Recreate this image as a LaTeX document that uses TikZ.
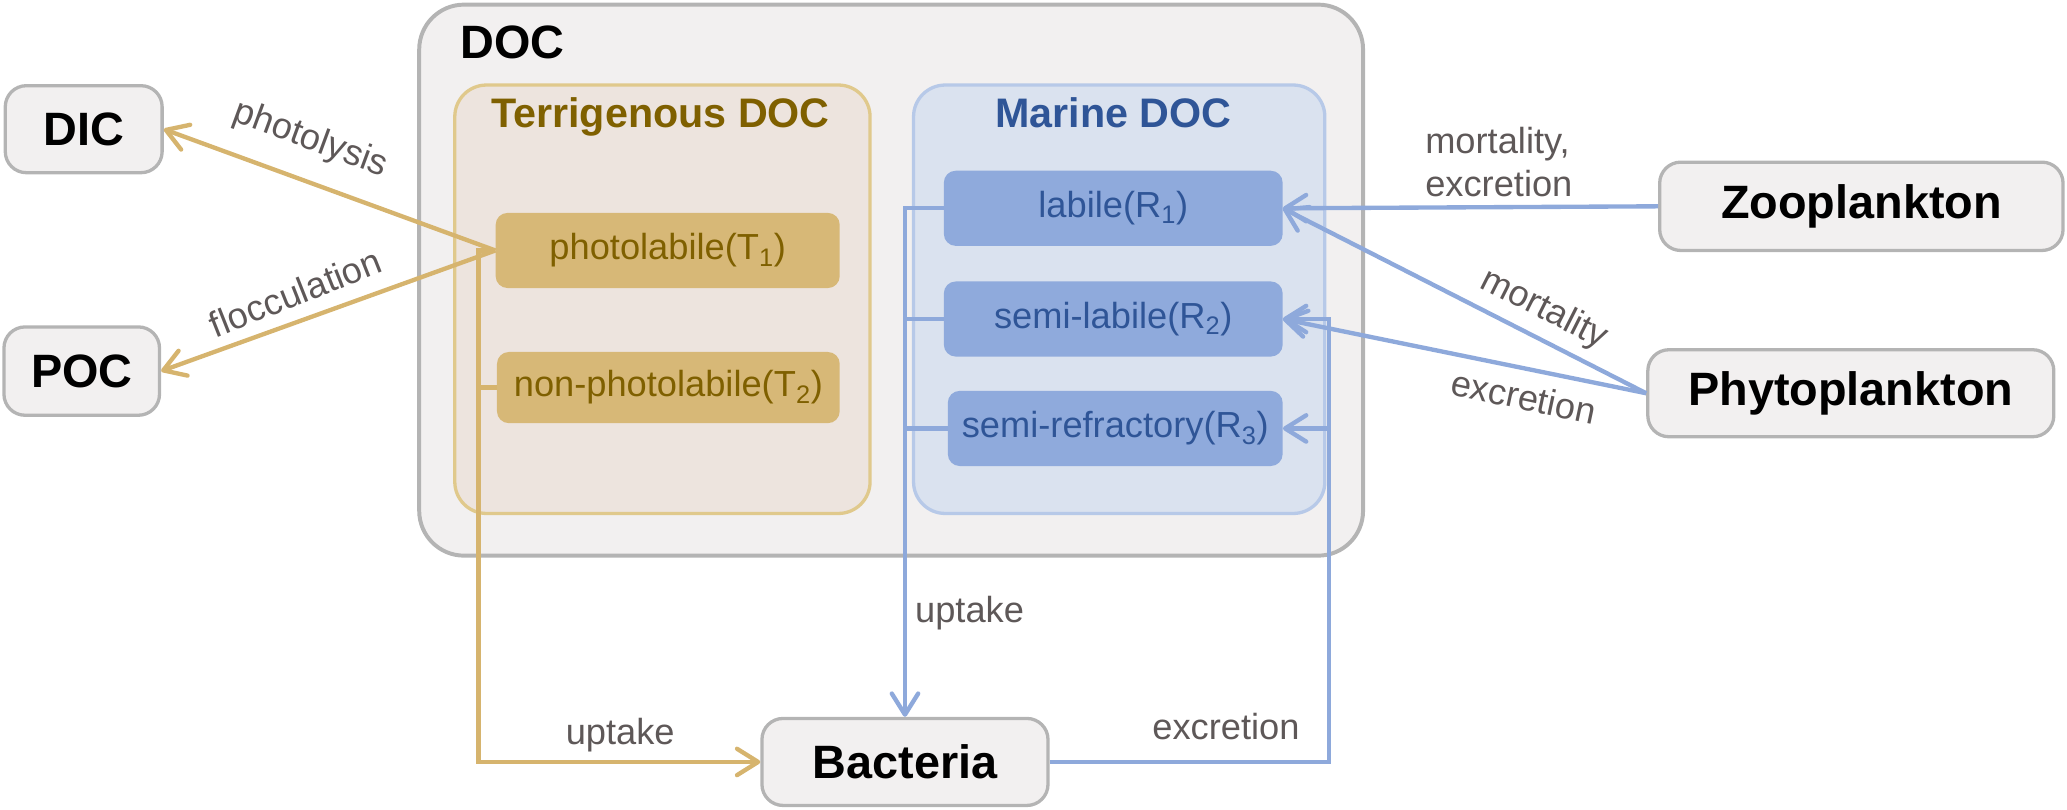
\documentclass[tikz,border=0pt]{standalone}
\usepackage{fontspec}
\setmainfont{Liberation Sans}
\usetikzlibrary{arrows.meta}
\definecolor{gbfill}{HTML}{F2F0F0}
\definecolor{gbdraw}{HTML}{B4B4B4}
\definecolor{terrfill}{HTML}{EDE4DE}
\definecolor{terrdraw}{HTML}{E0C98C}
\definecolor{goldbox}{HTML}{D7B877}
\definecolor{goldtext}{HTML}{7F6000}
\definecolor{goldline}{HTML}{D6B46E}
\definecolor{marfill}{HTML}{DAE2EF}
\definecolor{mardraw}{HTML}{B7C9E8}
\definecolor{bluebox}{HTML}{8FAADC}
\definecolor{bluetext}{HTML}{2F5597}
\definecolor{blueline}{HTML}{8EA9DB}
\definecolor{labgray}{HTML}{5E5858}
\newcommand\lblfont{\fontsize{27.5}{33}\selectfont}
\newcommand\extfont{\fontsize{35.5}{42}\selectfont\bfseries}
\newcommand\subttlfont{\fontsize{31.3}{38}\selectfont\bfseries}
\begin{document}
\begin{tikzpicture}[x=1pt,y=-1pt,
  outerbox/.style={draw=gbdraw, fill=gbfill, line width=3pt, rounded corners=34pt, inner sep=0pt},
  terrbox/.style={draw=terrdraw, fill=terrfill, line width=2.5pt, rounded corners=24pt, inner sep=0pt},
  marbox/.style={draw=mardraw, fill=marfill, line width=2.5pt, rounded corners=24pt, inner sep=0pt},
  gitem/.style={fill=goldbox, text=goldtext, rounded corners=9pt, font=\lblfont, inner sep=0pt, minimum height=57pt, minimum width=260pt},
  bitem/.style={fill=bluebox, text=bluetext, rounded corners=9pt, font=\lblfont, inner sep=0pt, minimum height=57pt, minimum width=257pt},
  extbox/.style={draw=gbdraw, fill=gbfill, line width=2.5pt, rounded corners=16pt, font=\extfont, inner sep=0pt},
  gline/.style={draw=goldline, line width=3.3pt},
  bline/.style={draw=blueline, line width=3.3pt},
  gflow/.style={gline, -{Straight Barb[length=16pt,width=20pt,round]}},
  bflow/.style={bline, -{Straight Barb[length=16pt,width=20pt,round]}},
  lab/.style={text=labgray, font=\lblfont, inner sep=0pt}
]
\useasboundingbox (0,0) rectangle (1568,613.7);

% containers
\node[outerbox, minimum width=716pt, minimum height=418pt] (doc) at (676,212.5) {};
\node[anchor=base west, font=\extfont, inner sep=0pt] (doct) at (349,44) {DOC};
\node[terrbox, minimum width=315pt, minimum height=325pt] (terr) at (502.5,227) {};
\node[anchor=base, font=\subttlfont, text=goldtext, inner sep=0pt] (terrt) at (501,97) {Terrigenous DOC};
\node[marbox, minimum width=312pt, minimum height=325pt] (mar) at (849,227) {};
\node[anchor=base, font=\subttlfont, text=bluetext, inner sep=0pt] (mart) at (844.5,97) {Marine DOC};

% pools
\node[gitem, minimum width=261pt] (T1) at (506.5,190) {photolabile(T\textsubscript{1})\hspace{14pt}};
\node[gitem, minimum height=54pt] (T2) at (507,294) {non-photolabile(T\textsubscript{2})};
\node[bitem] (R1) at (844.5,158) {labile(R\textsubscript{1})};
\node[bitem] (R2) at (844.5,242) {semi-labile(R\textsubscript{2})};
\node[bitem, minimum width=254pt] (R3) at (846,325) {semi-refractory(R\textsubscript{3})};

% external boxes
\node[extbox, minimum width=119pt, minimum height=66pt] (DIC) at (63.5,98) {DIC};
\node[extbox, minimum width=118pt, minimum height=67pt] (POC) at (62,281.5) {POC};
\node[extbox, minimum width=306pt, minimum height=67pt] (Zoo) at (1412,156.5) {Zooplankton};
\node[extbox, minimum width=308pt, minimum height=66pt] (Phyto) at (1404,298.3) {Phytoplankton};
\node[extbox, minimum width=217pt, minimum height=66pt] (Bact) at (686.5,578) {Bacteria};

% gold connectors
\coordinate (gj) at (363,190);
\draw[gflow] (T1.west) -- (DIC.east);
\draw[gflow] (T1.west) -- (POC.east);
\draw[gflow] (T1.west) -- (gj) |- (Bact.west);
\draw[gline] (T2.west) -- (T2.west -| gj);

% blue connectors
\draw[bflow] (R1.west) -| (Bact.north);
\draw[bline] (R2.west) -- (R2.west -| Bact.north);
\draw[bline] (R3.west) -- (R3.west -| Bact.north);
\draw[bflow] (Zoo.west) -- (R1.east);
\draw[bflow] (Phyto.west) -- (R1.east);
\draw[bflow] (Phyto.west) -- (R2.east);
\coordinate (ej) at (1008,242);
\draw[bflow] (Bact.east) -| (ej) -- (R2.east);
\draw[bflow] (R3.east -| ej) -- (R3.east);

% labels
\node[lab, rotate=-20.2] (lphot) at (235.5,106) {photolysis};
\node[lab, rotate=21.6] (lfloc) at (224,222) {flocculation};
\node[lab, anchor=north west, align=left] (lzoo) at (1081,96) {mortality,\\excretion};
\node[lab, rotate=-26.8] (lmort) at (1171,235) {mortality};
\node[lab, rotate=-12] (lexc) at (1156,301) {excretion};
\node[lab, anchor=base west] (lupb) at (694,472) {uptake};
\node[lab, anchor=base west] (lupg) at (429,565) {uptake};
\node[lab, anchor=base west] (lexb) at (874,561) {excretion};
\end{tikzpicture}
\end{document}
